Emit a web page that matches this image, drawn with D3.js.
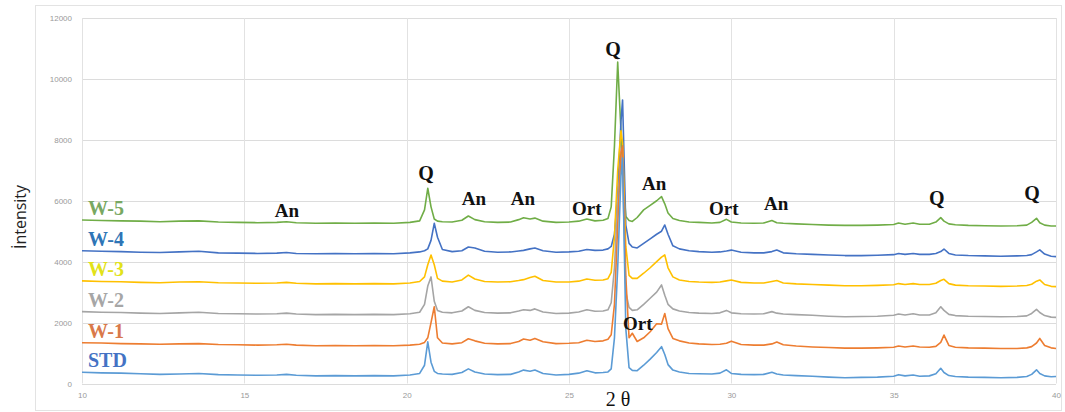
<!DOCTYPE html>
<html lang="en">

<head>
    <meta charset="UTF-8">
    <title>XRD patterns</title>
    <script src="https://d3js.org/d3.v7.min.js"></script>
    <style>
        body {
            margin: 0;
            background: #fff;
        }
    </style>
</head>

<body>
    <div id="chart"></div>
    <script>
        // 2θ sampling points (shared by all series)
        const twoTheta = [
            10, 10.6, 11.2, 11.8, 12.4, 13, 13.6, 14.2, 14.8, 15.4,
            16, 16.3, 16.6, 17.2, 17.8, 18.4, 19, 19.6, 20.1, 20.4,
            20.55, 20.65, 20.75, 20.85, 20.95, 21.1, 21.4, 21.7, 21.9, 22.1,
            22.4, 22.8, 23.2, 23.45, 23.6, 23.8, 23.95, 24.2, 24.6, 25.0,
            25.3, 25.55, 25.8, 26.05, 26.2, 26.3, 26.4, 26.5, 26.6, 26.65,
            26.75, 26.85, 26.95, 27.1, 27.3, 27.5, 27.7, 27.85, 27.95, 28.05,
            28.2, 28.4, 28.7, 29.0, 29.4, 29.65, 29.85, 30.0, 30.3, 30.7,
            31.0, 31.25, 31.4, 31.6, 32.0, 32.5, 33.0, 33.5, 34.0, 34.5,
            35.0, 35.15, 35.35, 35.6, 35.8, 36.1, 36.3, 36.45, 36.55, 36.7,
            36.9, 37.3, 37.8, 38.3, 38.8, 39.1, 39.25, 39.4, 39.5, 39.65,
            39.85, 40
        ];

        const std = [
            370, 350, 340, 320, 300, 310, 330, 290, 280, 270,
            280, 300, 270, 250, 260, 250, 260, 250, 280, 330,
            600, 1370, 700, 400, 330, 310, 300, 360, 480, 380,
            310, 290, 300, 380, 440, 400, 440, 330, 280, 300,
            340, 420, 350, 360, 380, 480, 1500, 3800, 6800, 7400,
            1800, 520, 430, 420, 600, 800, 1020, 1210, 950, 620,
            440, 380, 330, 320, 310, 340, 450, 330, 300, 290,
            300, 370, 310, 280, 260, 240, 210, 190, 200, 210,
            240, 290, 250, 280, 240, 250, 320, 500, 360, 260,
            230, 210, 200, 190, 200, 230, 300, 450, 330, 250,
            220, 230
        ];

        const w1 = [
            1340, 1330, 1310, 1300, 1290, 1300, 1310, 1280, 1270, 1260,
            1270, 1290, 1260, 1240, 1250, 1240, 1250, 1240, 1260, 1290,
            1350, 1500, 2000, 2520, 1500, 1330, 1300, 1340, 1470, 1400,
            1320, 1300, 1310, 1380, 1460, 1420, 1480, 1370, 1310, 1320,
            1340, 1420, 1380, 1400, 1450, 1600, 2600, 5200, 7600, 7800,
            3500, 1500, 1650, 1380, 1500, 1700, 1960, 1950, 2300, 1800,
            1480, 1400, 1330, 1300, 1280, 1290, 1320, 1390, 1280, 1260,
            1260, 1300, 1360, 1270, 1230, 1200, 1180, 1160, 1160, 1170,
            1190, 1230, 1200, 1230, 1200, 1190, 1220, 1350, 1590, 1250,
            1190, 1170, 1160, 1150, 1150, 1170, 1210, 1330, 1480, 1250,
            1170, 1150
        ];

        const w2 = [
            2360, 2340, 2330, 2310, 2300, 2320, 2340, 2300, 2290, 2280,
            2290, 2310, 2280, 2260, 2270, 2260, 2270, 2260, 2290, 2340,
            2600, 3200, 3500, 2700, 2400, 2340, 2320, 2380, 2520, 2400,
            2330, 2310, 2320, 2380, 2420, 2400, 2450, 2350, 2300, 2310,
            2350, 2420, 2370, 2380, 2420, 2650, 3800, 6000, 7500, 7000,
            3000, 2500, 2400, 2420, 2600, 2800, 3000, 3235, 2900, 2600,
            2450, 2380, 2330, 2310, 2300, 2320, 2400, 2320, 2290, 2280,
            2290, 2360, 2310, 2280, 2260, 2240, 2210, 2190, 2200, 2210,
            2240, 2280, 2250, 2290, 2250, 2250, 2320, 2520, 2400, 2270,
            2230, 2210, 2200, 2190, 2200, 2220, 2300, 2435, 2330, 2230,
            2180, 2170
        ];

        const w3 = [
            3370, 3350, 3340, 3320, 3310, 3330, 3340, 3310, 3300, 3290,
            3300, 3320, 3290, 3270, 3280, 3270, 3280, 3270, 3300, 3350,
            3500, 3900, 4220, 3900, 3450, 3360, 3330, 3400, 3560, 3430,
            3350, 3330, 3340, 3380, 3410, 3480, 3520, 3380, 3330, 3330,
            3360, 3430, 3390, 3400, 3440, 3650, 4800, 7000, 8300, 7900,
            4500, 3550, 3450, 3450, 3620, 3800, 4000, 4150, 4220, 3800,
            3500, 3400, 3350, 3330, 3320, 3330, 3370, 3400, 3320, 3300,
            3300, 3350, 3380, 3300, 3270, 3250, 3230, 3210, 3210, 3220,
            3240, 3280, 3250, 3280, 3250, 3250, 3290, 3380, 3420, 3280,
            3230, 3210, 3200, 3190, 3200, 3220, 3260, 3360, 3400, 3250,
            3190, 3180
        ];

        const w4 = [
            4360, 4340, 4330, 4310, 4300, 4320, 4340, 4290, 4280, 4270,
            4280, 4300, 4270, 4260, 4270, 4260, 4270, 4260, 4290, 4320,
            4360, 4420, 4700, 5260, 4800, 4400, 4330, 4360, 4480, 4450,
            4340, 4310, 4320, 4350, 4370, 4420, 4450, 4360, 4310, 4320,
            4340, 4400, 4370, 4380, 4420, 4500, 4900, 6200, 8600, 9310,
            5200, 4600, 4480, 4450, 4600, 4750, 4900, 5000, 5205, 4900,
            4520, 4420, 4360, 4330, 4310, 4320, 4350, 4380, 4310, 4290,
            4290, 4330, 4385, 4290, 4260, 4240, 4220, 4200, 4200, 4210,
            4230, 4270, 4240, 4270, 4240, 4240, 4270, 4330, 4415, 4270,
            4220, 4200, 4190, 4180, 4190, 4200, 4230, 4320, 4385, 4250,
            4180, 4165
        ];

        const w5 = [
            5370, 5350, 5340, 5330, 5310, 5330, 5340, 5300, 5290, 5280,
            5290, 5310, 5280, 5260, 5270, 5260, 5270, 5260, 5290, 5340,
            5700, 6410, 5800, 5400, 5330, 5310, 5300, 5360, 5500, 5380,
            5310, 5290, 5300, 5380, 5440, 5400, 5430, 5330, 5290, 5300,
            5330, 5400, 5340, 5360, 5420, 5800, 7800, 10550, 8300, 7000,
            5480, 5350, 5320, 5450, 5700, 5850, 6000, 6135, 5900, 5600,
            5420, 5350, 5300, 5290, 5270, 5290, 5390, 5300, 5270, 5260,
            5270, 5350, 5280, 5260, 5240, 5220, 5200, 5190, 5190, 5200,
            5220, 5270, 5230, 5270, 5230, 5230, 5300, 5445, 5330, 5240,
            5210, 5190, 5180, 5170, 5180, 5200, 5290, 5425, 5280, 5200,
            5170, 5170
        ];

        const seriesNames = ["W-5", "W-4", "W-3", "W-2", "W-1", "STD"];
        const seriesValues = [w5, w4, w3, w2, w1, std];
        const lineColors = ["#70ad47", "#4472c4", "#ffc000", "#a5a5a5", "#ed7d31", "#5b9bd5"];
        const labelColors = ["#78a862", "#2e75b6", "#e2e21a", "#a6a6a6", "#d9794a", "#4472c4"];

        const xTicks = [10, 15, 20, 25, 30, 35, 40];
        const yTicks = [0, 2000, 4000, 6000, 8000, 10000, 12000];

        // peak labels: phase, 2θ, intensity
        const peakNames = ["An", "Q", "An", "An", "Ort", "Q", "An", "Ort", "Ort", "An", "Q", "Q"];
        const peakTheta = [16.31, 20.6, 22.07, 23.58, 25.55, 26.36, 27.62, 29.77, 27.12, 31.38, 36.33, 39.26];
        const peakIntensity = [5467, 6680, 5860, 5860, 5532, 10752, 6353, 5532, 1757, 5696, 5860, 6024];

        const width = 1065;
        const height = 412;
        const margin = { top: 18, right: 9, bottom: 28.5, left: 82 };

        const svg = d3.select("#chart")
            .append("svg")
            .attr("width", width)
            .attr("height", height);

        // chart area frame
        svg.append("rect")
            .attr("x", 35.5)
            .attr("y", 5.5)
            .attr("width", 1026)
            .attr("height", 405)
            .attr("fill", "#fff")
            .attr("stroke", "#e3e3e3");

        const x = d3.scaleLinear()
            .domain([10, 40])
            .range([margin.left, width - margin.right]);

        const y = d3.scaleLinear()
            .domain([0, 12000])
            .range([height - margin.bottom, margin.top]);

        // gridlines
        svg.append("g")
            .selectAll("line")
            .data(yTicks)
            .enter()
            .append("line")
            .attr("x1", x(10))
            .attr("x2", x(40))
            .attr("y1", d => Math.round(y(d)) + 0.5)
            .attr("y2", d => Math.round(y(d)) + 0.5)
            .attr("stroke", "#dcdcdc");

        svg.append("g")
            .selectAll("line")
            .data(xTicks)
            .enter()
            .append("line")
            .attr("x1", d => Math.round(x(d)) + 0.5)
            .attr("x2", d => Math.round(x(d)) + 0.5)
            .attr("y1", y(0))
            .attr("y2", y(12000))
            .attr("stroke", "#e2e2e2");

        // axes (labels only, Excel style)
        const xAxis = svg.append("g")
            .attr("transform", `translate(0,${y(0)})`)
            .call(d3.axisBottom(x).tickValues(xTicks).tickSize(0).tickPadding(9));
        const yAxis = svg.append("g")
            .attr("transform", `translate(${x(10)},0)`)
            .call(d3.axisLeft(y).tickValues(yTicks).tickSize(0).tickPadding(10).tickFormat(d3.format("d")));
        [xAxis, yAxis].forEach(a => {
            a.select(".domain").remove();
            a.selectAll("text")
                .attr("fill", "#9a9a9a")
                .style("font-family", "'Liberation Sans', Arial, sans-serif")
                .style("font-size", "8px");
        });

        // lines
        const line = d3.line()
            .x((d, i) => x(twoTheta[i]))
            .y(d => y(d));

        svg.append("g")
            .selectAll("path")
            .data(seriesValues)
            .enter()
            .append("path")
            .attr("d", d => line(d))
            .attr("fill", "none")
            .attr("stroke", (d, i) => lineColors[i])
            .attr("stroke-width", 1.6)
            .attr("stroke-linejoin", "round");

        // series labels
        svg.append("g")
            .selectAll("text")
            .data(seriesNames)
            .enter()
            .append("text")
            .attr("x", x(10) + 6)
            .attr("y", (d, i) => y(seriesValues[i][0]) - 5)
            .attr("fill", (d, i) => labelColors[i])
            .style("font-family", "'Liberation Serif', 'Times New Roman', serif")
            .style("font-weight", "bold")
            .style("font-size", "20px")
            .text(d => d);

        // peak annotations
        svg.append("g")
            .selectAll("text")
            .data(peakNames)
            .enter()
            .append("text")
            .attr("x", (d, i) => x(peakTheta[i]))
            .attr("y", (d, i) => y(peakIntensity[i]))
            .attr("text-anchor", "middle")
            .attr("fill", "#111")
            .style("font-family", "'Liberation Serif', 'Times New Roman', serif")
            .style("font-weight", "bold")
            .style("font-size", (d) => d === "Q" ? "20px" : "19px")
            .text(d => d);

        // axis titles
        svg.append("text")
            .attr("x", 618)
            .attr("y", 406)
            .attr("text-anchor", "middle")
            .attr("fill", "#111")
            .style("font-family", "'Liberation Serif', 'Times New Roman', serif")
            .style("font-size", "20px")
            .text("2 θ");

        svg.append("text")
            .attr("transform", "translate(26,217) rotate(-90)")
            .attr("text-anchor", "middle")
            .attr("fill", "#222")
            .style("font-family", "'Open Sans', 'Liberation Sans', sans-serif")
            .style("font-size", "16px")
            .text("İntensity");
    </script>
</body>

</html>
